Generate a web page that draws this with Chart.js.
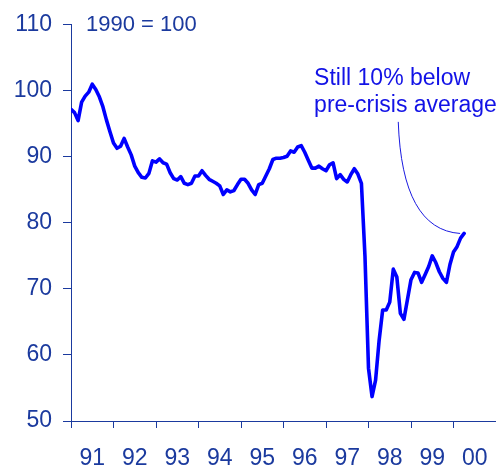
<!DOCTYPE html>
<html>
<head>
<meta charset="utf-8">
<script src="https://cdn.jsdelivr.net/npm/chart.js@4"></script>
<style>
  html, body { margin: 0; padding: 0; background: #fff; }
  canvas { display: block; }
</style>
</head>
<body>
<canvas id="chart" width="496" height="466"></canvas>
<script>
// monthly index, 1990 = 100, Jan 1991 .. Apr 2000
const startYear = 1991;
const values = [
  97.2, 96.7, 95.5, 98.3, 99.2, 99.8, 101.0, 100.2, 99.1, 97.6, 95.6, 93.8,
  92.1, 91.3, 91.6, 92.8, 91.5, 90.3, 88.6, 87.6, 86.9, 86.8, 87.5, 89.4,
  89.2, 89.7, 89.1, 88.9, 87.6, 86.7, 86.5, 87.0, 86.0, 85.8, 86.0, 87.1,
  87.1, 87.9, 87.2, 86.6, 86.3, 86.0, 85.6, 84.3, 85.0, 84.7, 84.9, 85.8,
  86.6, 86.6, 86.0, 85.0, 84.3, 85.8, 86.0, 87.1, 88.2, 89.6, 89.8, 89.8,
  89.9, 90.1, 90.9, 90.7, 91.5, 91.7, 90.7, 89.5, 88.3, 88.3, 88.6, 88.2,
  87.9, 88.8, 89.1, 86.7, 87.3, 86.6, 86.2, 87.3, 88.2, 87.4, 86.0, 75.0,
  58.0, 53.7, 56.2, 62.2, 66.8, 66.8, 68.0, 73.0, 71.8, 66.3, 65.4, 68.4,
  71.4, 72.5, 72.4, 71.0, 72.2, 73.4, 75.0, 74.0, 72.6, 71.6, 71.0, 73.7,
  75.6, 76.4, 77.7, 78.4
];
const yearLabels = ["91", "92", "93", "94", "95", "96", "97", "98", "99", "00"];
const yTicks = [50, 60, 70, 80, 90, 100, 110];
const baseNote = "1990 = 100";
const calloutLines = ["Still 10% below", "pre-crisis average"];

const NAVY = "#1b3a9e";
const BLUE = "#0000ff";
const FONT = '"Liberation Sans", Arial, sans-serif';

const points = values.map((v, i) => ({ x: startYear + i / 12, y: v }));

// year boundaries get tick marks, mid-years get the labels
const xTickValues = [];
for (let k = 0; k <= yearLabels.length; k++) {
  xTickValues.push(startYear + k);
  if (k < yearLabels.length) xTickValues.push(startYear + k + 0.5);
}

const notes = {
  id: "notes",
  afterDatasetsDraw(chart) {
    const { ctx, chartArea, scales } = chart;
    const x = scales.x, y = scales.y;
    ctx.save();
    ctx.font = "22px " + FONT;
    ctx.textAlign = "left";
    ctx.textBaseline = "alphabetic";
    ctx.fillStyle = NAVY;
    ctx.fillText(baseNote, chartArea.left + 15, chartArea.top + 6);

    ctx.font = "23px " + FONT;
    ctx.fillStyle = "#1212e6";
    const tx = x.getPixelForValue(1996.72);
    const ty = y.getPixelForValue(100.9);
    calloutLines.forEach((t, i) => ctx.fillText(t, tx, ty + i * 27.5));

    const last = points[points.length - 1];
    const ex = x.getPixelForValue(last.x) - 4;
    const ey = y.getPixelForValue(last.y);
    ctx.strokeStyle = "#1a1ae0";
    ctx.lineWidth = 1;
    ctx.beginPath();
    ctx.moveTo(x.getPixelForValue(1998.70), y.getPixelForValue(95.3));
    ctx.quadraticCurveTo(x.getPixelForValue(1998.79), y.getPixelForValue(79.0), ex, ey);
    ctx.stroke();
    ctx.restore();
  }
};

new Chart(document.getElementById("chart"), {
  type: "line",
  data: {
    datasets: [{
      data: points,
      borderColor: BLUE,
      borderWidth: 3.6,
      borderJoinStyle: "round",
      borderCapStyle: "round",
      pointRadius: 0,
      tension: 0,
      fill: false
    }]
  },
  options: {
    responsive: false,
    animation: false,
    devicePixelRatio: 1,
    layout: { padding: { top: 22, right: 0, bottom: 0, left: 0 } },
    plugins: { legend: { display: false }, tooltip: { enabled: false } },
    scales: {
      x: {
        type: "linear",
        min: startYear,
        max: startYear + yearLabels.length,
        afterBuildTicks: (axis) => { axis.ticks = xTickValues.map((v) => ({ value: v })); },
        afterFit: (axis) => {
          axis.height = 45;
          axis.paddingLeft = 0;
          axis.paddingRight = 0;
        },
        grid: {
          drawOnChartArea: false,
          drawTicks: true,
          tickLength: 7,
          lineWidth: 1,
          color: (c) => (c.tick && Number.isInteger(c.tick.value) ? NAVY : "rgba(0,0,0,0)")
        },
        border: { display: true, color: NAVY, width: 1 },
        ticks: {
          autoSkip: false,
          maxRotation: 0,
          minRotation: 0,
          padding: 17,
          color: NAVY,
          font: { family: FONT, size: 23 },
          callback: (v) => (Number.isInteger(v) ? "" : yearLabels[Math.floor(v) - startYear])
        }
      },
      y: {
        min: 50,
        max: 110,
        afterBuildTicks: (axis) => { axis.ticks = yTicks.map((v) => ({ value: v })); },
        afterFit: (axis) => { axis.width = 71; },
        grid: { drawOnChartArea: false, drawTicks: true, tickLength: 8, color: NAVY, lineWidth: 1 },
        border: { display: true, color: NAVY, width: 1 },
        ticks: {
          padding: 11,
          color: NAVY,
          font: { family: FONT, size: 23 }
        }
      }
    }
  },
  plugins: [notes]
});
</script>
</body>
</html>
